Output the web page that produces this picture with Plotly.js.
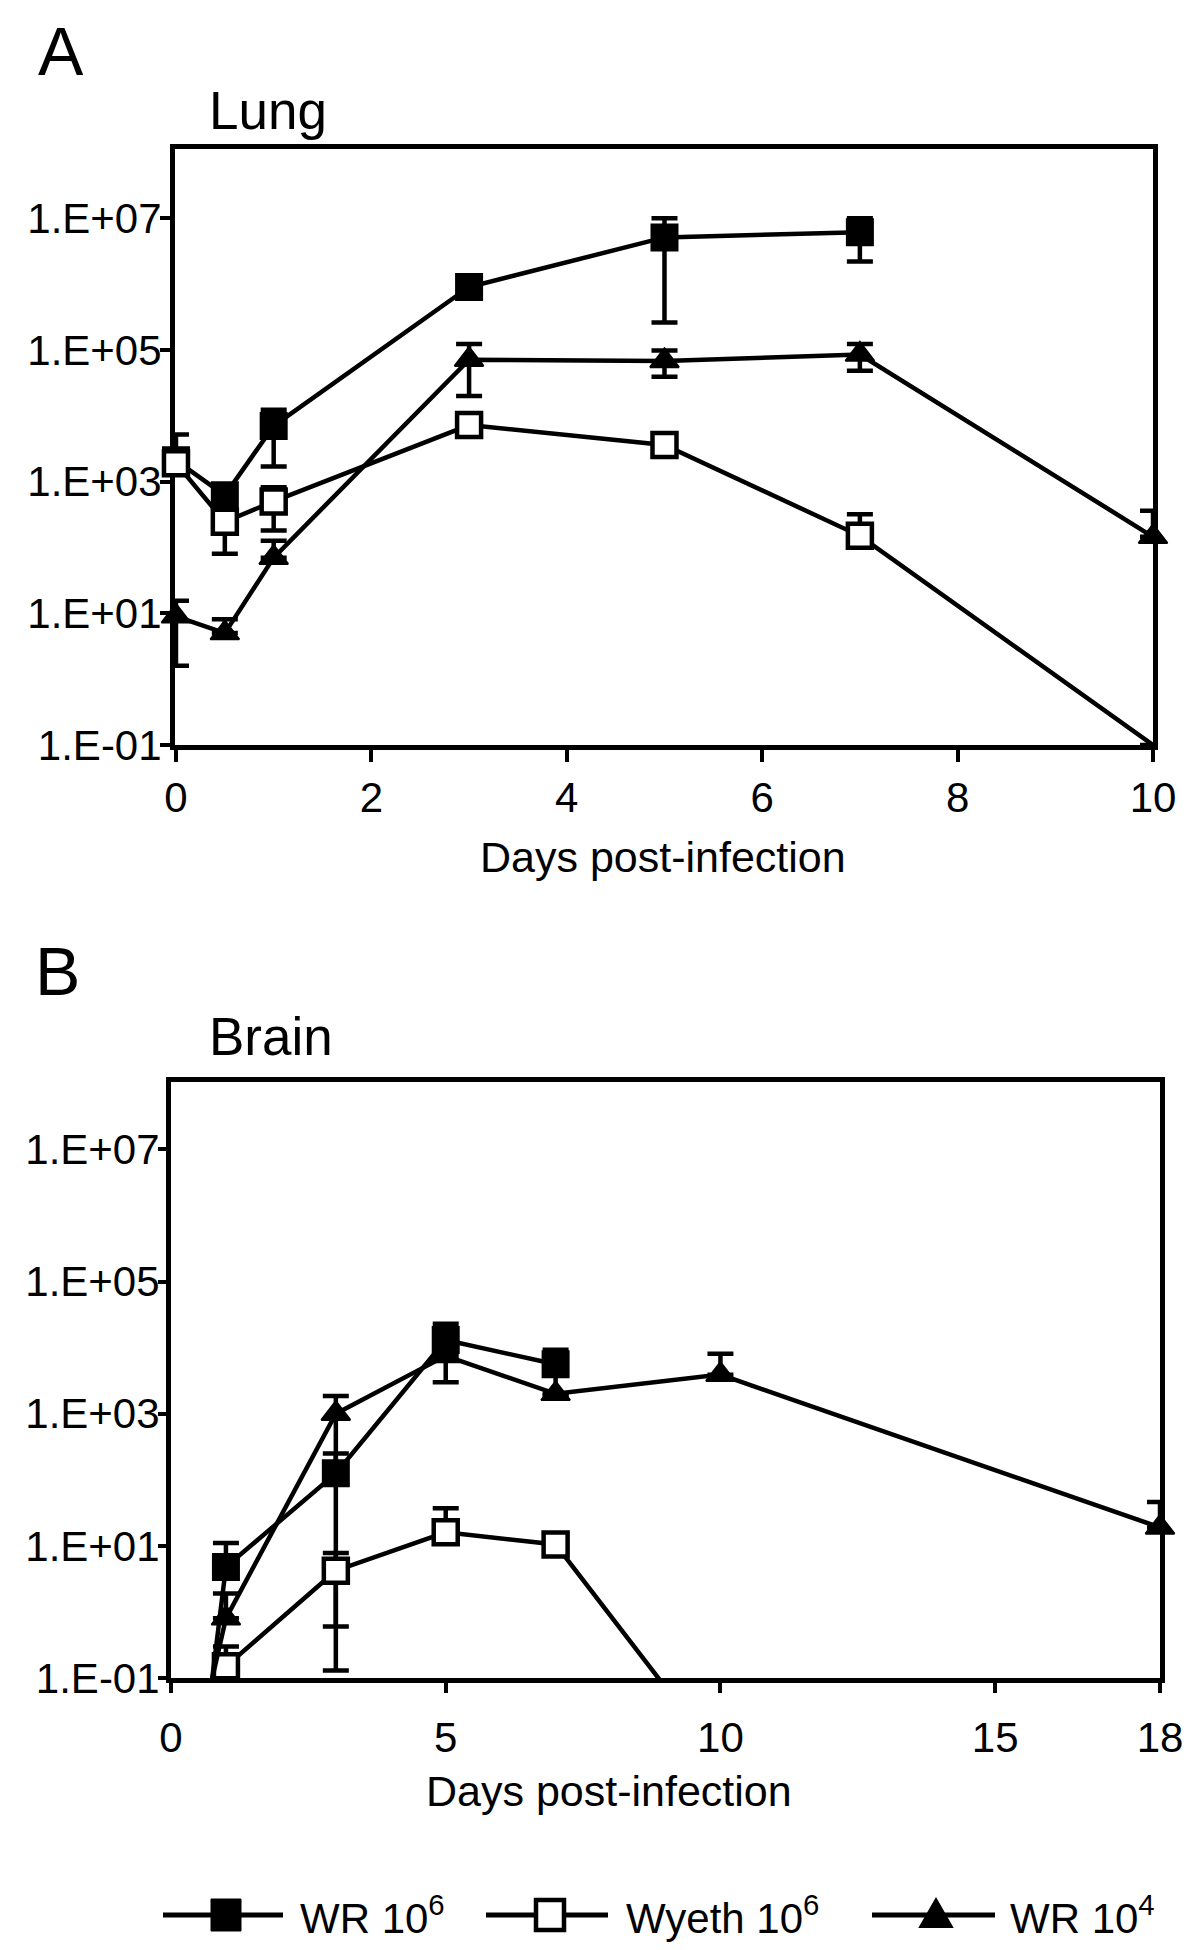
<!DOCTYPE html>
<html>
<head>
<meta charset="utf-8">
<script src="https://cdn.plot.ly/plotly-3.0.1.min.js"></script>
<style>html,body{margin:0;padding:0;background:#fff;}#chart{width:1200px;height:1950px;}</style>
</head>
<body>
<div id="chart"></div>
<script>
// ---------- DATA ----------
const seriesNames = ['WR 10<sup>6</sup>', 'Wyeth 10<sup>6</sup>', 'WR 10<sup>4</sup>'];

// Panel A - Lung
const lungDaysWR6 = [0, 0.5, 1, 3, 5, 7];
const lungWR6 = [2100, 620, 7000, 9.0e5, 5.1e6, 6.1e6];
const lungWR6Plus = [3100, 0, 5300, 0, 4.9e6, 3.9e6];
const lungWR6Minus = [0, 0, 5300, 0, 4.84e6, 3.9e6];

const lungDaysWyeth = [0, 0.5, 1, 3, 5, 7, 10];
const lungWyeth = [1900, 245, 500, 7200, 3600, 150, 0.1];
const lungWyethPlus = [0, 0, 320, 0, 0, 170, 0];
const lungWyethMinus = [0, 165, 320, 0, 0, 0, 0];

const lungDaysWR4 = [0, 0.5, 1, 3, 5, 7, 10];
const lungWR4 = [9, 5, 70, 7.1e4, 6.8e4, 8.5e4, 145];
const lungWR4Plus = [6.5, 3.1, 56, 5.2e4, 3.0e4, 3.8e4, 215];
const lungWR4Minus = [7.4, 0, 0, 5.1e4, 2.9e4, 3.7e4, 0];

// Panel B - Brain
const brainDaysWR6 = [0.5, 1, 3, 5, 7];
const brainWR6 = [0.002, 4.8, 125, 1.3e4, 5600];
const brainWR6Plus = [0, 6.2, 125, 1.0e4, 3700];
const brainWR6Minus = [0, 0, 124.87, 1.0e4, 3700];

const brainDaysWyeth = [0.5, 1, 3, 5, 7, 10];
const brainWyeth = [0.03, 0.15, 4.2, 16, 10.5, 0.006];
const brainWyethPlus = [0, 0.15, 3.6, 21, 0, 0];
const brainWyethMinus = [0, 0, 3.6, 0, 0, 0];

const brainDaysWR4 = [0.5, 1, 3, 5, 7, 10, 18];
const brainWR4 = [0.012, 0.8, 1000, 7500, 2000, 3900, 19];
const brainWR4Plus = [0, 1.1, 850, 0, 0, 4200, 27];
const brainWR4Minus = [0, 0, 850, 0, 0, 0, 0];

// Axis ticks
const yTickVals = [0.1, 10, 1000, 1e5, 1e7];
const yTickText = ['1.E-01', '1.E+01', '1.E+03', '1.E+05', '1.E+07'];
const lungXTicks = [0, 2, 4, 6, 8, 10];
const brainXTicks = [0, 5, 10, 15, 18];

// ---------- STYLE ----------
const FONT = 'Liberation Sans, Arial, Helvetica, sans-serif';
const DETECTION_LIMIT = 0.1;
const LINE_W = 4.5;
const styles = [
  {symbol: 'square', size: 26, color: '#000', lineW: 2},
  {symbol: 'square', size: 24, color: '#fff', lineW: 4.5},
  {symbol: 'triangle-up', size: 25, color: '#000', lineW: 2}
];

function mkTrace(x, y, plus, minus, idx, xa, ya) {
  const st = styles[idx];
  return {
    type: 'scatter', mode: 'lines+markers', x: x, y: y,
    xaxis: xa, yaxis: ya,
    name: seriesNames[idx], showlegend: false,
    cliponaxis: false,
    line: {color: '#000', width: LINE_W},
    marker: {
      symbol: st.symbol, color: st.color, opacity: 1,
      size: y.map(v => v <= DETECTION_LIMIT ? 0 : st.size),
      line: {color: '#000', width: y.map(v => v <= DETECTION_LIMIT ? 0 : st.lineW)}
    },
    error_y: {type: 'data', symmetric: false, array: plus, arrayminus: minus,
              color: '#000', thickness: 4.5, width: 13, visible: true},
    hoverinfo: 'skip'
  };
}

const data = [
  mkTrace(lungDaysWR6, lungWR6, lungWR6Plus, lungWR6Minus, 0, 'x', 'y'),
  mkTrace(lungDaysWyeth, lungWyeth, lungWyethPlus, lungWyethMinus, 1, 'x', 'y'),
  mkTrace(lungDaysWR4, lungWR4, lungWR4Plus, lungWR4Minus, 2, 'x', 'y'),
  mkTrace(brainDaysWR6, brainWR6, brainWR6Plus, brainWR6Minus, 0, 'x2', 'y2'),
  mkTrace(brainDaysWyeth, brainWyeth, brainWyethPlus, brainWyethMinus, 1, 'x2', 'y2'),
  mkTrace(brainDaysWR4, brainWR4, brainWR4Plus, brainWR4Minus, 2, 'x2', 'y2')
];

const W = 1200, H = 1950;
const px = v => v / W;
const py = v => 1 - v / H;

const axisCommon = {
  showline: true, linecolor: '#000', linewidth: 5, mirror: true,
  showgrid: false, zeroline: false, ticks: 'outside', tickcolor: '#000',
  tickwidth: 4, layer: 'below traces',
  tickfont: {family: FONT, size: 42, color: '#000'}
};

// ---------- legend key (drawn as layout decoration) ----------
const legendY = 1915;
const legendItems = [
  {lineX: [163, 283], markX: 226, textX: 298},
  {lineX: [486, 608], markX: 550, textX: 624},
  {lineX: [872, 995], markX: 936, textX: 1008}
];
const legendShapes = [];
const legendAnn = [];
legendItems.forEach((it, i) => {
  legendShapes.push({type: 'line', xref: 'paper', yref: 'paper',
    x0: px(it.lineX[0]), x1: px(it.lineX[1]), y0: py(legendY), y1: py(legendY),
    line: {color: '#000', width: 5}});
  if (i === 2) {
    const hw = 16, top = legendY - 16, bot = legendY + 12;
    legendShapes.push({type: 'path', xref: 'paper', yref: 'paper',
      path: 'M' + px(it.markX - hw) + ',' + py(bot) + ' L' + px(it.markX + hw) + ',' + py(bot) +
            ' L' + px(it.markX) + ',' + py(top) + ' Z',
      fillcolor: '#000', line: {color: '#000', width: 2}});
  } else {
    const half = i === 0 ? 15 : 14;
    legendShapes.push({type: 'rect', xref: 'paper', yref: 'paper',
      x0: px(it.markX - half), x1: px(it.markX + half), y0: py(legendY + half + 1), y1: py(legendY - half - 1),
      fillcolor: i === 0 ? '#000' : '#fff', line: {color: '#000', width: i === 0 ? 1 : 4.5}});
  }
  legendAnn.push({text: seriesNames[i], x: px(it.textX), y: py(legendY), xref: 'paper', yref: 'paper',
    xanchor: 'left', yanchor: 'middle', showarrow: false, font: {family: FONT, size: 42, color: '#000'}});
});

const layout = {
  width: W, height: H,
  margin: {l: 0, r: 0, t: 0, b: 0},
  paper_bgcolor: '#fff', plot_bgcolor: '#fff',
  font: {family: FONT, color: '#000'},
  showlegend: false,
  xaxis: Object.assign({}, axisCommon, {
    domain: [px(175), px(1153)], range: [-0.01, 10], anchor: 'y',
    tickmode: 'array', tickvals: lungXTicks, ticklen: 12, ticklabelstandoff: 0
  }),
  yaxis: Object.assign({}, axisCommon, {
    domain: [py(745), py(149)], type: 'log', range: [-1, 8.05], anchor: 'x',
    tickmode: 'array', tickvals: yTickVals, ticktext: yTickText, ticklen: 10, ticklabelstandoff: -10
  }),
  xaxis2: Object.assign({}, axisCommon, {
    domain: [px(171), px(1160)], range: [0, 18], anchor: 'y2',
    tickmode: 'array', tickvals: brainXTicks, ticklen: 10, ticklabelstandoff: 9
  }),
  yaxis2: Object.assign({}, axisCommon, {
    domain: [py(1678), py(1082)], type: 'log', range: [-1, 8.02], anchor: 'x2',
    tickmode: 'array', tickvals: yTickVals, ticktext: yTickText, ticklen: 8, ticklabelstandoff: -10
  }),
  shapes: legendShapes,
  annotations: [
    {text: 'A', x: px(36), y: py(51), xref: 'paper', yref: 'paper', xanchor: 'left', yanchor: 'middle', showarrow: false, font: {family: FONT, size: 68, color: '#000'}},
    {text: 'Lung', x: px(207), y: py(110), xref: 'paper', yref: 'paper', xanchor: 'left', yanchor: 'middle', showarrow: false, font: {family: FONT, size: 53, color: '#000'}},
    {text: 'B', x: px(33), y: py(971), xref: 'paper', yref: 'paper', xanchor: 'left', yanchor: 'middle', showarrow: false, font: {family: FONT, size: 68, color: '#000'}},
    {text: 'Brain', x: px(207), y: py(1036), xref: 'paper', yref: 'paper', xanchor: 'left', yanchor: 'middle', showarrow: false, font: {family: FONT, size: 53, color: '#000'}},
    {text: 'Days post-infection', x: px(663), y: py(857), xref: 'paper', yref: 'paper', xanchor: 'center', yanchor: 'middle', showarrow: false, font: {family: FONT, size: 43, color: '#000'}},
    {text: 'Days post-infection', x: px(609), y: py(1791), xref: 'paper', yref: 'paper', xanchor: 'center', yanchor: 'middle', showarrow: false, font: {family: FONT, size: 43, color: '#000'}}
  ].concat(legendAnn)
};

Plotly.newPlot('chart', data, layout, {staticPlot: true, displayModeBar: false}).then(function () {
  // drop empty placeholder text nodes that Plotly leaves behind
  document.querySelectorAll('#chart svg text').forEach(function (t) {
    if (!t.textContent || !t.textContent.trim()) t.parentNode.removeChild(t);
  });
});
</script>
</body>
</html>
